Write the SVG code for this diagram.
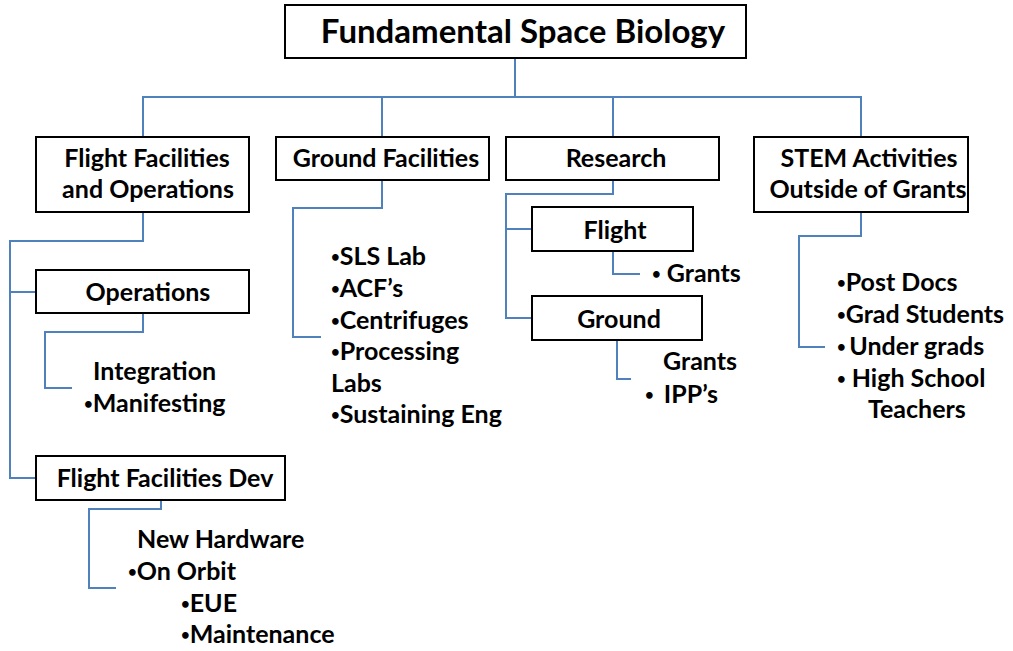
<svg xmlns="http://www.w3.org/2000/svg" width="1013" height="651" viewBox="0 0 1013 651">
<style>
.box{fill:#fff;stroke:#000;stroke-width:2}
.c{fill:none;stroke:#4F81BD;stroke-width:2}
text{font-family:Lato,"Open Sans","Liberation Sans",sans-serif;font-weight:bold;font-size:25px;fill:#000}
.t{font-size:33px}
.m{text-anchor:middle}
.b{font-size:15px}
</style>
<rect width="1013" height="651" fill="#fff"/>
<g id="connectors">
<path class="c" d="M515 58V97M143 137V97H861V137M382 97V137M613 97V137"/>
<path class="c" d="M143 212V241H10V478H36M10 292H36"/>
<path class="c" d="M143 313V332H45V388H72"/>
<path class="c" d="M382 180V208H293V337H321"/>
<path class="c" d="M613 180V194H506V318H532M506 229H532"/>
<path class="c" d="M613 251V274H640"/>
<path class="c" d="M617 340V379H631"/>
<path class="c" d="M861 212V236H799V347H825"/>
<path class="c" d="M161 500V509H89V588H116"/>
</g>
<g id="root"><rect class="box" x="285" y="5" width="461" height="53"/><text class="t m" x="523" y="43">Fundamental Space Biology</text></g>
<g id="flight-facilities"><rect class="box" x="36" y="137" width="213" height="75"/><text class="m" x="147" y="167">Flight Facilities</text><text class="m" x="148" y="198">and Operations</text></g>
<g id="ground-facilities"><rect class="box" x="276" y="137" width="213" height="43"/><text class="m" x="386" y="167">Ground Facilities</text>
<text x="331" y="265"><tspan class="b" baseline-shift="3px">•</tspan>SLS Lab</text><text x="331" y="297"><tspan class="b" baseline-shift="3px">•</tspan>ACF’s</text><text x="331" y="329"><tspan class="b" baseline-shift="3px">•</tspan>Centrifuges</text><text x="331" y="360"><tspan class="b" baseline-shift="3px">•</tspan>Processing</text><text x="331" y="392">Labs</text><text x="331" y="423"><tspan class="b" baseline-shift="3px">•</tspan>Sustaining Eng</text></g>
<g id="research"><rect class="box" x="506" y="137" width="213" height="43"/><text class="m" x="616" y="167">Research</text></g>
<g id="stem"><rect class="box" x="754" y="137" width="214" height="75"/><text class="m" x="869" y="167">STEM Activities</text><text class="m" x="868" y="198">Outside of Grants</text>
<text x="837" y="291"><tspan class="b" baseline-shift="3px">•</tspan>Post Docs</text><text x="837" y="323"><tspan class="b" baseline-shift="3px">•</tspan>Grad Students</text><text x="837" y="355"><tspan class="b" baseline-shift="3px">•</tspan><tspan class="b"> </tspan>Under grads</text><text x="837" y="387"><tspan class="b" baseline-shift="3px">•</tspan> High School</text><text x="868" y="418">Teachers</text></g>
<g id="operations"><rect class="box" x="36" y="270" width="213" height="43"/><text class="m" x="148" y="301">Operations</text>
<text x="93" y="380">Integration</text><text x="84" y="412"><tspan class="b" baseline-shift="3px">•</tspan>Manifesting</text></g>
<g id="flight"><rect class="box" x="532" y="207" width="161" height="44"/><text class="m" x="615" y="239">Flight</text><text x="652" y="282"><tspan class="b" baseline-shift="3px">•</tspan> Grants</text></g>
<g id="ground"><rect class="box" x="532" y="296" width="170" height="44"/><text class="m" x="619" y="328">Ground</text><text x="663" y="370">Grants</text><text x="645" y="403"><tspan class="b" baseline-shift="3px">•</tspan> <tspan dx="4">IPP’s</tspan></text></g>
<g id="flight-facilities-dev"><rect class="box" x="36" y="456" width="249" height="44"/><text class="m" x="165" y="487">Flight Facilities Dev</text>
<text x="137" y="548">New Hardware</text><text x="128" y="580"><tspan class="b" baseline-shift="3px">•</tspan>On Orbit</text><text x="181" y="612"><tspan class="b" baseline-shift="3px">•</tspan>EUE</text><text x="181" y="643"><tspan class="b" baseline-shift="3px">•</tspan>Maintenance</text></g>
</svg>
